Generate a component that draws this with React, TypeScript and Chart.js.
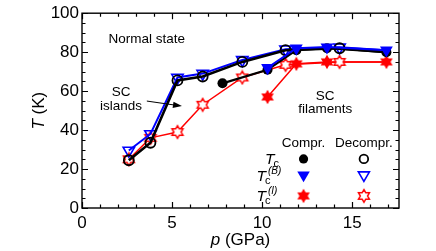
import React, { useEffect, useRef } from 'react';
import { Chart, registerables } from 'chart.js';
Chart.register(...registerables);

// Compression run
const pComp = [7.8, 10.3, 11.9, 13.6, 16.9];
const tcComp = [64, 71, 81, 82, 80];
const tcBComp = [null, 72, 82, 82.6, 81];
const tcIComp = [null, 57, 74, 75, 75];
// Decompression run (starts from the last compression point)
const pDecomp = [16.9, 14.3, 11.3, 8.9, 6.7, 5.3, 3.8, 2.6];
const tcDecomp = [80, 82, 81, 75, 67.5, 65.5, 33.5, 24.5];
const tcBDecomp = [81, 82.5, 81.5, 76, 69, 67, 38, 29.5];
const tcIDecomp = [75, 75, 73.5, 67, 53, 39, 36, 25];

const xTickLabels = [0, 5, 10, 15];
const yTickLabels = [0, 20, 40, 60, 80, 100];
const xMin = 0, xMax = 17.6, yMin = 0, yMax = 100;
const xMajor = 5, xMinor = 1, yMajor = 20, yMinor = 5;

const FONT = '"Liberation Sans", Arial, Helvetica, sans-serif';
const BLUE = '#0000ff';
const RED = '#ff0000';

function pts(xs: number[], ys: (number | null)[]) {
  const out: { x: number; y: number }[] = [];
  xs.forEach((x, i) => {
    const y = ys[i];
    if (y !== null && y !== undefined) out.push({ x, y });
  });
  return out;
}

function hexPath(ctx: CanvasRenderingContext2D, cx: number, cy: number, R: number) {
  const r = R / Math.sqrt(3);
  ctx.beginPath();
  for (let k = 0; k < 12; k++) {
    const ang = (-90 + k * 30) * Math.PI / 180;
    const rad = k % 2 === 0 ? R : r;
    const x = cx + rad * Math.cos(ang);
    const y = cy + rad * Math.sin(ang);
    if (k === 0) ctx.moveTo(x, y); else ctx.lineTo(x, y);
  }
  ctx.closePath();
}

function makeStar(filled: boolean) {
  const c = document.createElement('canvas');
  c.width = 16; c.height = 16;
  const ctx = c.getContext('2d')!;
  if (filled) {
    hexPath(ctx, 8, 8, 7.2);
    ctx.fillStyle = RED;
    ctx.fill();
  } else {
    hexPath(ctx, 8, 8, 6.3);
    ctx.fillStyle = '#ffffff';
    ctx.fill();
    ctx.strokeStyle = RED;
    ctx.lineWidth = 1.5;
    ctx.stroke();
  }
  return c;
}

function drawTri(ctx: CanvasRenderingContext2D, x: number, y: number, r: number, filled: boolean) {
  ctx.beginPath();
  ctx.moveTo(x, y + r);
  ctx.lineTo(x - r * Math.sqrt(3) / 2, y - r / 2);
  ctx.lineTo(x + r * Math.sqrt(3) / 2, y - r / 2);
  ctx.closePath();
  if (filled) { ctx.fillStyle = BLUE; ctx.fill(); }
  else { ctx.fillStyle = '#fff'; ctx.fill(); ctx.strokeStyle = BLUE; ctx.lineWidth = 1.6; ctx.stroke(); }
}

export default function App() {
  const ref = useRef<HTMLCanvasElement>(null);

  useEffect(() => {
    const starFilled = makeStar(true);
    const starOpen = makeStar(false);
    const skipFirst = (r: number) => (c: any) => (c.dataIndex === 0 ? 0 : r);

    const overlay = {
      id: 'overlay',
      afterDraw(chart: any) {
        const ctx: CanvasRenderingContext2D = chart.ctx;
        const xs = chart.scales.x, ys = chart.scales.y;
        const a = chart.chartArea;
        const X = (v: number) => xs.getPixelForValue(v);
        const Y = (v: number) => ys.getPixelForValue(v);
        ctx.save();
        // ticks (inward, all four sides)
        ctx.strokeStyle = '#000';
        ctx.lineWidth = 1.2;
        ctx.beginPath();
        for (let i = 0; xMin + i * xMinor <= xMax + 1e-9; i++) {
          const v = xMin + i * xMinor;
          const px = Math.round(X(v)) + 0.5;
          const len = i % (xMajor / xMinor) === 0 ? 6 : 3.5;
          ctx.moveTo(px, a.bottom); ctx.lineTo(px, a.bottom - len);
          ctx.moveTo(px, a.top); ctx.lineTo(px, a.top + len);
        }
        for (let i = 0; yMin + i * yMinor <= yMax + 1e-9; i++) {
          const v = yMin + i * yMinor;
          const py = Math.round(Y(v)) + 0.5;
          const len = i % (yMajor / yMinor) === 0 ? 6 : 3.5;
          ctx.moveTo(a.left, py); ctx.lineTo(a.left + len, py);
          ctx.moveTo(a.right, py); ctx.lineTo(a.right - len, py);
        }
        ctx.stroke();
        // frame
        ctx.lineWidth = 1.4;
        ctx.strokeRect(a.left, a.top, a.right - a.left, a.bottom - a.top);

        ctx.fillStyle = '#000';
        // axis titles
        const cx = (a.left + a.right) / 2;
        ctx.font = `italic 17px ${FONT}`;
        const wp = ctx.measureText('p').width;
        ctx.font = `17px ${FONT}`;
        const wr = ctx.measureText(' (GPa)').width;
        ctx.textBaseline = 'alphabetic';
        ctx.textAlign = 'left';
        let sx = cx - (wp + wr) / 2;
        ctx.font = `italic 17px ${FONT}`;
        ctx.fillText('p', sx, 245);
        ctx.font = `17px ${FONT}`;
        ctx.fillText(' (GPa)', sx + wp, 245);

        ctx.save();
        ctx.translate(39, (a.top + a.bottom) / 2);
        ctx.rotate(-Math.PI / 2);
        ctx.textBaseline = 'middle';
        ctx.font = `italic 17px ${FONT}`;
        const wT = ctx.measureText('T').width;
        ctx.font = `17px ${FONT}`;
        const wK = ctx.measureText(' (K)').width;
        sx = -(wT + wK) / 2;
        ctx.font = `italic 17px ${FONT}`;
        ctx.fillText('T', sx, 0);
        ctx.font = `17px ${FONT}`;
        ctx.fillText(' (K)', sx + wT, 0);
        ctx.restore();

        // annotations
        ctx.font = `13.5px ${FONT}`;
        ctx.textAlign = 'center';
        ctx.textBaseline = 'middle';
        ctx.fillText('Normal state', X(3.6), Y(86.7));
        ctx.fillText('SC', X(2.17), Y(59.5));
        ctx.fillText('islands', X(2.17), Y(52.3));
        ctx.fillText('SC', X(13.5), Y(57.4));
        ctx.fillText('filaments', X(13.5), Y(50.8));
        // arrow
        const x0 = X(3.6), y0 = Y(54.9), x1 = X(5.55), y1 = Y(52.3);
        const ang = Math.atan2(y1 - y0, x1 - x0);
        ctx.lineWidth = 1;
        ctx.beginPath();
        ctx.moveTo(x0, y0);
        ctx.lineTo(x1 - 7 * Math.cos(ang), y1 - 7 * Math.sin(ang));
        ctx.stroke();
        ctx.beginPath();
        ctx.moveTo(x1, y1);
        ctx.lineTo(x1 - 9 * Math.cos(ang) + 3.2 * Math.sin(ang), y1 - 9 * Math.sin(ang) - 3.2 * Math.cos(ang));
        ctx.lineTo(x1 - 9 * Math.cos(ang) - 3.2 * Math.sin(ang), y1 - 9 * Math.sin(ang) + 3.2 * Math.cos(ang));
        ctx.closePath();
        ctx.fill();

        // legend
        const colC = X(12.3), colD = X(15.65);
        const rowH = Y(33), row1 = Y(25.2), row2 = Y(16.4), row3 = Y(6.2);
        ctx.font = `13.5px ${FONT}`;
        ctx.fillText('Compr.', colC, rowH);
        ctx.fillText('Decompr.', colD, rowH);
        ctx.beginPath(); ctx.arc(colC, row1, 4.6, 0, Math.PI * 2); ctx.fillStyle = '#000'; ctx.fill();
        ctx.beginPath(); ctx.arc(colD, row1, 4.3, 0, Math.PI * 2); ctx.lineWidth = 1.8; ctx.strokeStyle = '#000'; ctx.stroke();
        drawTri(ctx, colC, row2 - 1, 7.2, true);
        drawTri(ctx, colD, row2 - 1, 6.4, false);
        ctx.drawImage(starFilled, colC - 8, row3 - 8);
        ctx.drawImage(starOpen, colD - 8, row3 - 8);
        ctx.fillStyle = '#000';
        ctx.textAlign = 'left';
        ctx.textBaseline = 'alphabetic';
        const Tfont = `italic 15.5px ${FONT}`;
        const subFont = `11px ${FONT}`;
        const supFont = `italic 10px ${FONT}`;
        ctx.font = Tfont;
        const wT1 = ctx.measureText('T').width;
        ctx.font = subFont;
        const wc = ctx.measureText('c').width;
        const lx = 280 - wT1 - wc;
        ctx.font = Tfont; ctx.fillText('T', lx, row1 + 5);
        ctx.font = subFont; ctx.fillText('c', lx + wT1 - 1, row1 + 8);
        const rows: [number, string][] = [[row2, '(B)'], [row3, '(I)']];
        rows.forEach(([ry, sup]) => {
          const bx = 256.5;
          ctx.font = Tfont; ctx.fillText('T', bx, ry + 5);
          ctx.font = subFont; ctx.fillText('c', bx + wT1 - 1, ry + 8);
          ctx.font = supFont; ctx.fillText(sup, bx + wT1 + 2, ry - 2);
        });
        ctx.restore();
      },
    };

    const chart = new Chart(ref.current!, {
      type: 'scatter',
      data: {
        datasets: [
          {
            data: pts(pDecomp, tcDecomp), showLine: true, borderColor: '#000', borderWidth: 2.6,
            pointStyle: 'circle', pointRadius: skipFirst(5), pointBorderWidth: 1.8,
            pointBackgroundColor: 'rgba(255,255,255,0)', pointBorderColor: '#000', order: 2,
          } as any,
          {
            data: pts(pDecomp, tcBDecomp), showLine: true, borderColor: BLUE, borderWidth: 2,
            pointStyle: 'triangle', rotation: 180, pointRadius: skipFirst(6.6), pointBorderWidth: 1.6,
            pointBackgroundColor: 'rgba(255,255,255,0)', pointBorderColor: BLUE, order: 3,
          } as any,
          {
            data: pts(pDecomp, tcIDecomp), showLine: true, borderColor: RED, borderWidth: 1.5,
            pointStyle: starOpen, pointRadius: skipFirst(6), order: 5,
          } as any,
          {
            data: pts(pComp, tcComp), showLine: true, borderColor: '#000', borderWidth: 2.2,
            pointStyle: 'circle', pointRadius: 5, pointBorderWidth: 0,
            pointBackgroundColor: '#000', pointBorderColor: '#000', order: 4,
          } as any,
          {
            data: pts(pComp, tcBComp), showLine: true, borderColor: BLUE, borderWidth: 2,
            pointStyle: 'triangle', rotation: 180, pointRadius: 7.4, pointBorderWidth: 0,
            pointBackgroundColor: BLUE, pointBorderColor: BLUE, order: 1,
          } as any,
          {
            data: pts(pComp, tcIComp), showLine: true, borderColor: RED, borderWidth: 1.5,
            pointStyle: starFilled, pointRadius: 7, order: 6,
          } as any,
        ],
      },
      options: {
        animation: false,
        responsive: false,
        events: [],
        layout: { padding: { top: 13, right: 37, left: 0, bottom: 0 } },
        plugins: { legend: { display: false }, tooltip: { enabled: false } },
        scales: {
          x: {
            type: 'linear', min: xMin, max: xMax,
            grid: { display: false, drawTicks: false },
            border: { display: false },
            ticks: { padding: 5, color: '#000', font: { family: FONT, size: 17 }, maxRotation: 0, autoSkip: false },
            afterBuildTicks: (s: any) => { s.ticks = xTickLabels.map((v) => ({ value: v })); },
            afterFit: (s: any) => { s.height = 43; },
          },
          y: {
            type: 'linear', min: yMin, max: yMax,
            grid: { display: false, drawTicks: false },
            border: { display: false },
            ticks: { padding: 3, color: '#000', font: { family: FONT, size: 17 }, autoSkip: false },
            afterBuildTicks: (s: any) => { s.ticks = yTickLabels.map((v) => ({ value: v })); },
            afterFit: (s: any) => { s.width = 82; },
          },
        },
      } as any,
      plugins: [overlay],
    });
    return () => chart.destroy();
  }, []);

  return (
    <div style={{ position: 'absolute', left: 0, top: 0, width: 436, height: 251, background: '#fff' }}>
      <canvas ref={ref} width={436} height={251} />
    </div>
  );
}
